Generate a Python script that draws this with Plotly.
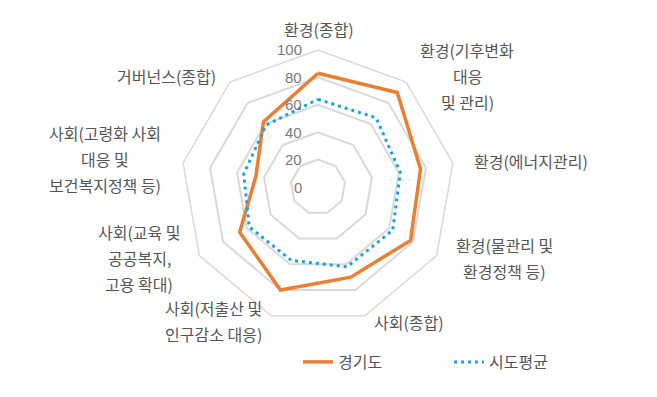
import plotly.graph_objects as go

categories = [
    "환경(종합)",
    "환경(기후변화 대응 및 관리)",
    "환경(에너지관리)",
    "환경(물관리 및 환경정책 등)",
    "사회(종합)",
    "사회(저출산 및 인구감소 대응)",
    "사회(교육 및 공공복지, 고용 확대)",
    "사회(고령화 사회 대응 및 보건복지정책 등)",
    "거버넌스(종합)",
]
# label lines as shown around the chart
label_lines = [
    ["환경(종합)"],
    ["환경(기후변화", "대응", "및 관리)"],
    ["환경(에너지관리)"],
    ["환경(물관리 및", "환경정책 등)"],
    ["사회(종합)"],
    ["사회(저출산 및", "인구감소 대응)"],
    ["사회(교육 및", "공공복지,", "고용 확대)"],
    ["사회(고령화 사회", "대응 및", "보건복지정책 등)"],
    ["거버넌스(종합)"],
]
gyeonggi = [83, 90, 76, 78, 70, 80, 66, 46, 62]
sido_avg = [64, 66, 61, 63, 62, 57, 58, 55, 59]
radial_ticks = [0, 20, 40, 60, 80, 100]

# label layout (pixel centres of first line) in a 657x397 canvas
W, H = 657, 397
label_pos = [
    (319, 29), (467, 50), (531, 161), (504, 245), (409, 322),
    (213, 308), (139, 232), (105, 133), (166, 76),
]
line_gap = 26

FONT = "Noto Sans CJK KR, Malgun Gothic, sans-serif"
NUMFONT = "Liberation Sans, Arial, sans-serif"
TXT = "#555555"
GRID = "#d9d9d9"

fig = go.Figure()
fig.add_trace(go.Scatterpolar(
    r=gyeonggi + gyeonggi[:1], theta=categories + categories[:1],
    mode="lines", name="경기도",
    line=dict(color="#ED7D31", width=3.5),
))
fig.add_trace(go.Scatterpolar(
    r=sido_avg + sido_avg[:1], theta=categories + categories[:1],
    mode="lines", name="시도평균",
    line=dict(color="#12A5E3", width=3, dash="3px,4px"),
))

annotations = []
for lines, (cx, cy) in zip(label_lines, label_pos):
    for i, t in enumerate(lines):
        annotations.append(dict(
            text=t, x=cx / W, y=1 - (cy + i * line_gap) / H,
            xref="paper", yref="paper", showarrow=False,
            xanchor="center", yanchor="middle",
            font=dict(family=FONT, size=16, color=TXT),
        ))

cx0, cy0, R = 318, 187, 137
rmax = 100
# radial tick labels, right-aligned just left of the vertical axis
for v in radial_ticks:
    annotations.append(dict(
        text=str(v), x=(cx0 - 14) / W, y=1 - (cy0 - R * v / rmax) / H,
        xref="paper", yref="paper", showarrow=False,
        xanchor="right", yanchor="middle",
        font=dict(family=NUMFONT, size=15, color="#7a7a7a"),
    ))

fig.update_layout(
    width=W, height=H,
    margin=dict(l=0, r=0, t=0, b=0),
    paper_bgcolor="white", plot_bgcolor="white",
    font=dict(family=FONT, color=TXT),
    polar=dict(
        domain=dict(x=[(cx0 - R) / W, (cx0 + R) / W],
                    y=[1 - (cy0 + R) / H, 1 - (cy0 - R) / H]),
        bgcolor="white",
        gridshape="linear",
        angularaxis=dict(direction="clockwise", rotation=90,
                         showline=True, linecolor=GRID, linewidth=1.5,
                         showgrid=False, showticklabels=False, ticks=""),
        radialaxis=dict(range=[0, rmax], tickvals=radial_ticks,
                        angle=90, showticklabels=False,
                        showline=False, ticks="", gridcolor=GRID, gridwidth=1.5),
    ),
    showlegend=True,
    legend=dict(orientation="h", x=298 / W, xanchor="left",
                y=1 - 362 / H, yanchor="middle",
                font=dict(family=FONT, size=16, color=TXT),
                entrywidth=106, bgcolor="rgba(0,0,0,0)"),
    annotations=annotations,
)

fig.write_html("out.html")
